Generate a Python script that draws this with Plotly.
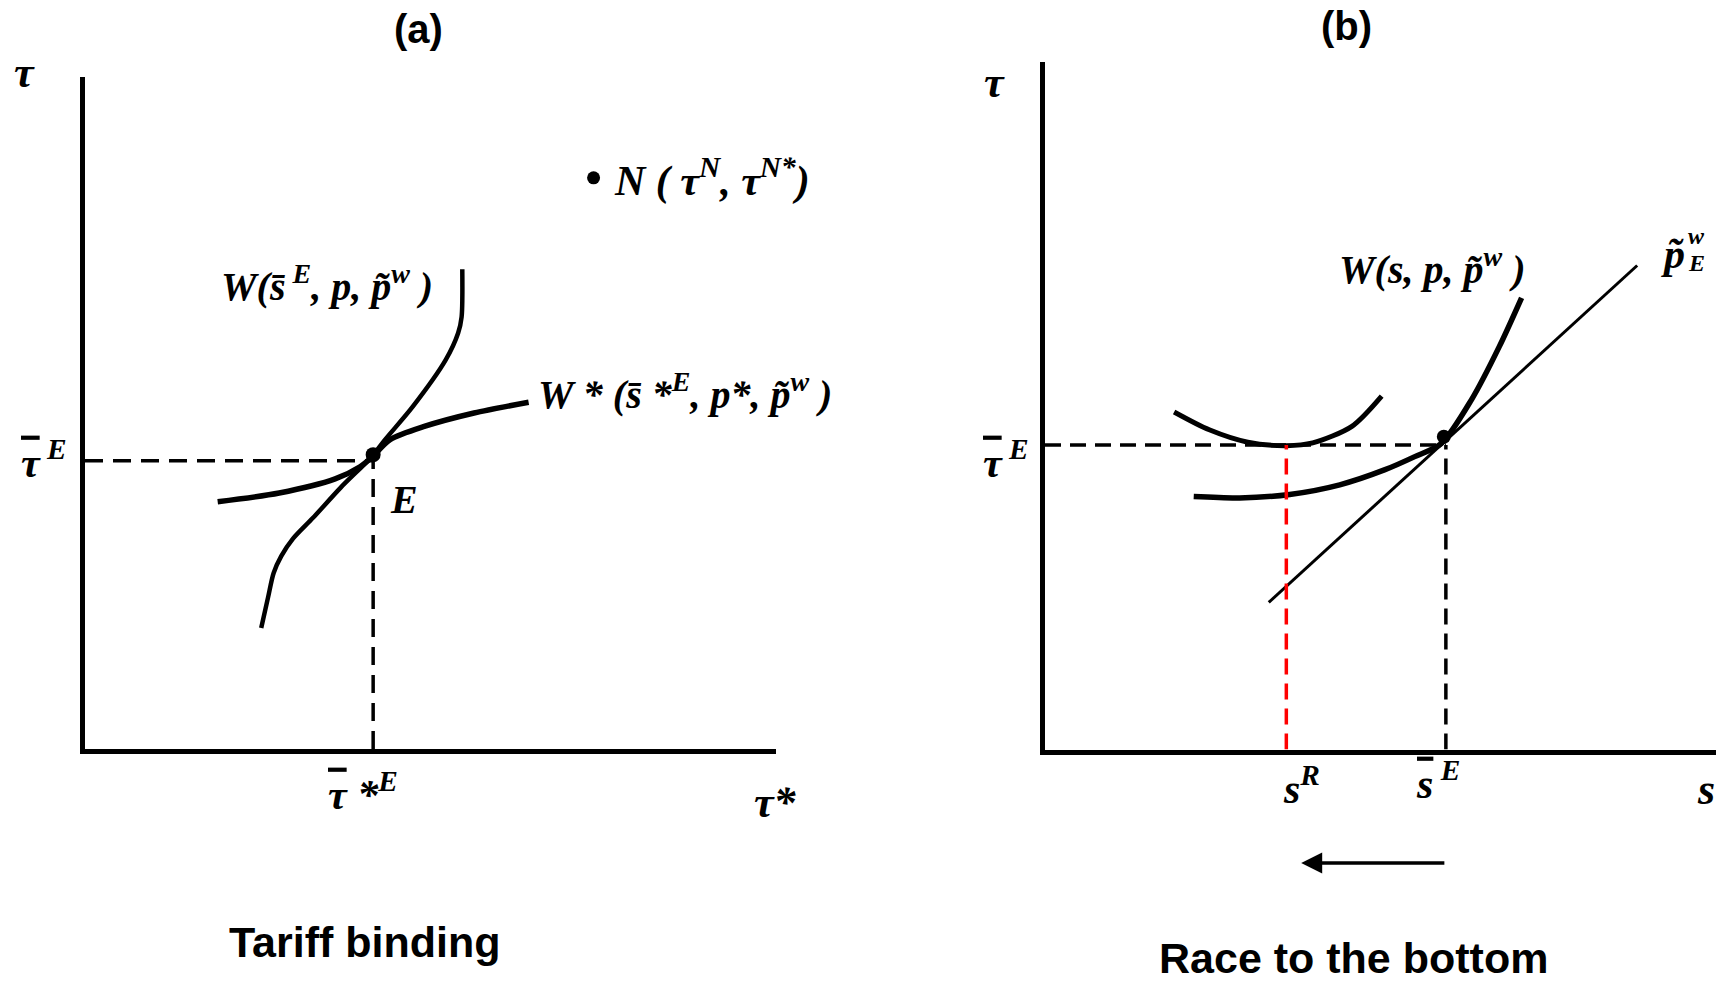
import plotly.graph_objects as go

# ---------------- Panel (a): Tariff binding (axes 0..10) ----------------
W_a_x = [2.55, 2.65, 2.73, 2.84, 3.01, 3.30, 3.70, 4.15, 4.34, 4.74, 5.22, 5.40, 5.45, 5.46]
W_a_y = [1.80, 2.26, 2.62, 2.87, 3.13, 3.44, 3.89, 4.35, 4.60, 5.09, 5.79, 6.19, 6.43, 7.14]

Wstar_a_x = [1.92, 2.81, 3.62, 3.98, 4.16, 4.41, 4.91, 5.63, 6.42]
Wstar_a_y = [3.68, 3.81, 4.02, 4.20, 4.35, 4.60, 4.80, 5.00, 5.16]

E_a = (4.17, 4.38)          # equilibrium dot
tauE_a = 4.29               # bound tariff level (home)
tauStarE_a = 4.17           # bound tariff level (foreign)
N_a = (7.36, 8.50)          # Nash point

# ---------------- Panel (b): Race to the bottom (axes 0..10) ----------------
U_b_x = [1.91, 2.43, 3.00, 3.57, 3.96, 4.54, 4.98]
U_b_y = [4.91, 4.65, 4.47, 4.42, 4.46, 4.70, 5.14]

W_b_x = [2.20, 2.88, 3.62, 4.36, 5.03, 5.47, 5.86, 6.31, 6.72, 7.05]
W_b_y = [3.68, 3.66, 3.71, 3.85, 4.07, 4.26, 4.45, 5.09, 5.86, 6.57]

pline_b_x = [3.31, 8.76]
pline_b_y = [2.14, 7.04]

E_b = (5.90, 4.55)
tauE_b = 4.43
sR_b = 3.57
sE_b = 5.93
arrow_b = dict(head=3.79, tail=5.93, y=-1.65)

# ---------------- page geometry ----------------
BODY = 8                      # default body margin of the html page
FIG_W, FIG_H = 1724 - BODY, 983 - BODY


def pxx(X):
    return (X - BODY) / FIG_W


def pxy(Y):
    return 1 - (Y - BODY) / FIG_H


DOM_A = dict(x=(pxx(85), pxx(776)), y=(pxy(749), pxy(77)))
DOM_B = dict(x=(pxx(1045), pxx(1721)), y=(pxy(749.5), pxy(62)))


def to_paper(dom, xd, yd, rng=10.0):
    px = dom['x'][0] + xd / rng * (dom['x'][1] - dom['x'][0])
    py = dom['y'][0] + yd / rng * (dom['y'][1] - dom['y'][0])
    return px, py


fig = go.Figure()

BLACK = '#000000'
RED = '#ff0000'


def line(x, y, ax, width, dash=None, color=BLACK, spline=True):
    ln = dict(color=color, width=width)
    if spline:
        ln.update(shape='spline', smoothing=0.8)
    if dash:
        ln['dash'] = dash
    xa, ya = ('x', 'y') if ax == 'a' else ('x2', 'y2')
    fig.add_trace(go.Scatter(x=x, y=y, mode='lines', line=ln, xaxis=xa, yaxis=ya, hoverinfo='skip'))


def dot(pt, ax, size):
    xa, ya = ('x', 'y') if ax == 'a' else ('x2', 'y2')
    fig.add_trace(go.Scatter(x=[pt[0]], y=[pt[1]], mode='markers', marker=dict(color=BLACK, size=size),
                             xaxis=xa, yaxis=ya, hoverinfo='skip'))


# ---- panel (a) traces
line(W_a_x, W_a_y, 'a', 4.5)
line(Wstar_a_x, Wstar_a_y, 'a', 5.5)
line([0, tauStarE_a], [tauE_a, tauE_a], 'a', 3.5, dash='18px,10px', spline=False)
line([tauStarE_a, tauStarE_a], [0, tauE_a], 'a', 3.5, dash='18px,10px', spline=False)
dot(E_a, 'a', 15)
dot(N_a, 'a', 13)

# ---- panel (b) traces
line(U_b_x, U_b_y, 'b', 5)
line(W_b_x, W_b_y, 'b', 5.5)
line(pline_b_x, pline_b_y, 'b', 3, spline=False)
line([0, sE_b], [tauE_b, tauE_b], 'b', 3.5, dash='16px,9px', spline=False)
line([sE_b, sE_b], [0, tauE_b], 'b', 3.5, dash='16px,9px', spline=False)
line([sR_b, sR_b], [0, tauE_b], 'b', 3.5, dash='16px,9px', color=RED, spline=False)
dot(E_b, 'b', 14)

axis_common = dict(range=[0, 10], showgrid=False, zeroline=False, showticklabels=False, ticks='',
                   showline=True, linecolor=BLACK, linewidth=5, fixedrange=True)

fig.update_layout(
    width=FIG_W, height=FIG_H,
    margin=dict(l=0, r=0, t=0, b=0),
    paper_bgcolor='white', plot_bgcolor='white',
    showlegend=False,
    xaxis=dict(domain=list(DOM_A['x']), anchor='y', **axis_common),
    yaxis=dict(domain=list(DOM_A['y']), anchor='x', **axis_common),
    xaxis2=dict(domain=list(DOM_B['x']), anchor='y2', **axis_common),
    yaxis2=dict(domain=list(DOM_B['y']), anchor='x2', **axis_common),
)

SERIF = 'Liberation Serif'
SANS = 'Liberation Sans'


def math_font(size):
    return dict(family=SERIF, size=size, color=BLACK, style='italic', weight='bold')


def label(dom, xd, yd, text, size=40, xanchor='center', yanchor='middle'):
    px, py = to_paper(dom, xd, yd)
    fig.add_annotation(x=px, y=py, xref='paper', yref='paper', text=text, showarrow=False,
                       xanchor=xanchor, yanchor=yanchor, font=math_font(size))


OB = '\u0304'   # combining macron (bar)
TL = '\u0303'   # combining tilde
TAUBAR = '<span style="text-decoration:overline">τ</span>'
SBAR = '<span style="text-decoration:overline">s</span>'

# panel (a) labels
label(DOM_A, -0.87, 10.07, 'τ', 44)
label(DOM_A, -0.59, 4.31, TAUBAR + '<sup> E</sup>', 42)
label(DOM_A, 4.02, -0.63, TAUBAR + ' *<sup>E</sup>', 42)
label(DOM_A, 9.99, -0.80, 'τ*', 44)
label(DOM_A, 4.61, 3.71, 'E', 40)
label(DOM_A, 3.50, 6.92, 'W(s' + OB + '<sup> E</sup>, p, p' + TL + '<sup>w</sup> )', 40)
label(DOM_A, 6.52, 5.32, 'W * (s' + OB + ' *<sup>E</sup>, p*, p' + TL + '<sup>w</sup> )', 40, xanchor='left')
label(DOM_A, 7.63, 8.50, 'N ( τ<sup>N</sup>, τ<sup>N*</sup>)', 42, xanchor='left')

# panel (b) labels
label(DOM_B, -0.74, 9.70, 'τ', 44)
label(DOM_B, -0.58, 4.22, TAUBAR + '<sup> E</sup>', 42)
label(DOM_B, 3.80, -0.53, 's<sup>R</sup>', 42)
label(DOM_B, 5.81, -0.45, SBAR + '<sup> E</sup>', 42)
label(DOM_B, 9.78, -0.58, 's', 44)
label(DOM_B, 5.72, 7.02, 'W(s, p, p' + TL + '<sup>w</sup> )', 40)
label(DOM_B, 9.29, 7.21, 'p' + TL, 42)
label(DOM_B, 9.64, 7.07, 'E', 24)
label(DOM_B, 9.64, 7.47, 'w', 24)

# arrow (race to the bottom direction)
hx, hy = to_paper(DOM_B, arrow_b['head'], arrow_b['y'])
tx, ty = to_paper(DOM_B, arrow_b['tail'], arrow_b['y'])
fig.add_annotation(x=hx, y=hy, ax=(tx - hx) * FIG_W, ay=0, xref='paper', yref='paper', axref='pixel', ayref='pixel',
                   text='', showarrow=True, arrowhead=2, arrowsize=1.2, arrowwidth=3.5, arrowcolor=BLACK)

# titles
TITLE_FONT = dict(family=SANS, size=40, color=BLACK, weight='bold')
fig.add_annotation(x=pxx(418), y=pxy(29), xref='paper', yref='paper', text='(a)', showarrow=False,
                   xanchor='center', yanchor='middle', font=TITLE_FONT)
fig.add_annotation(x=pxx(1346), y=pxy(26), xref='paper', yref='paper', text='(b)', showarrow=False,
                   xanchor='center', yanchor='middle', font=TITLE_FONT)
CAP_FONT = dict(family=SANS, size=43, color=BLACK, weight='bold')
fig.add_annotation(x=pxx(364), y=pxy(942), xref='paper', yref='paper', text='Tariff binding', showarrow=False,
                   xanchor='center', yanchor='middle', font=CAP_FONT)
fig.add_annotation(x=pxx(1353), y=pxy(958), xref='paper', yref='paper', text='Race to the bottom', showarrow=False,
                   xanchor='center', yanchor='middle', font=CAP_FONT)

fig.write_html('out.html')
